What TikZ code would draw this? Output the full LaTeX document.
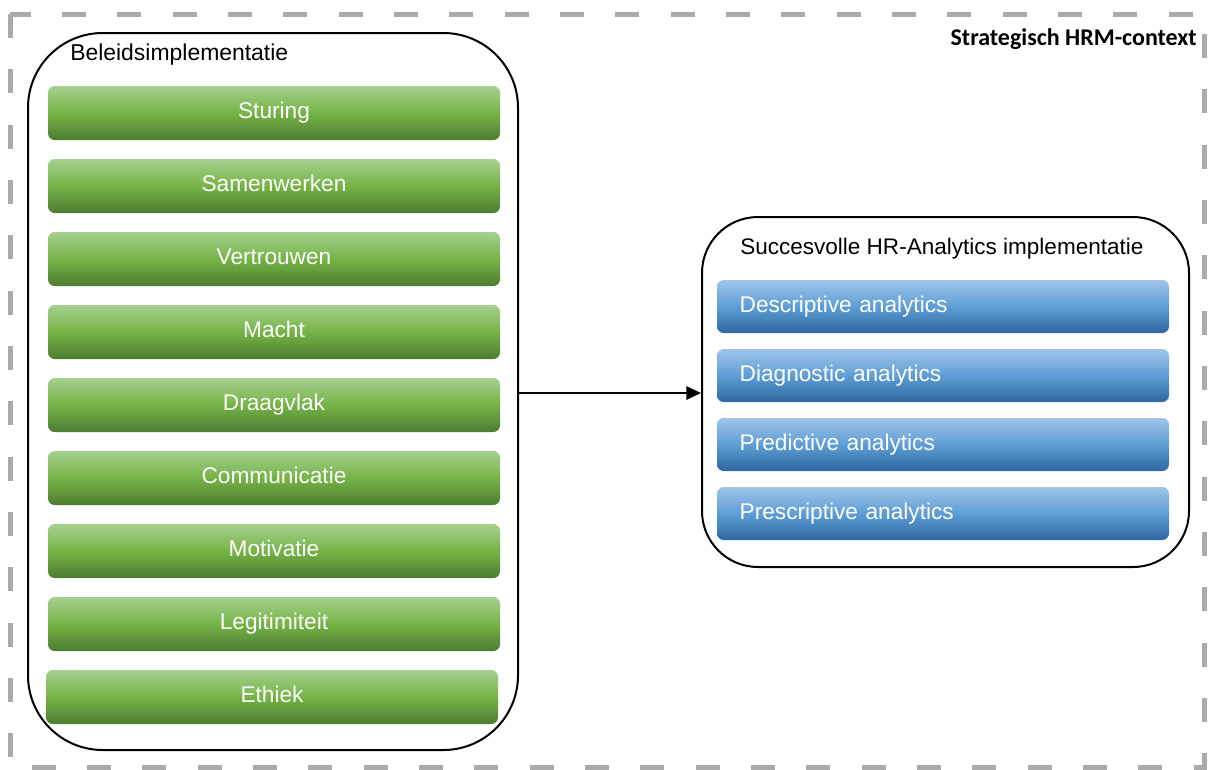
\documentclass[tikz,border=0pt]{standalone}
\usepackage{fontspec}
\setmainfont{Liberation Sans}
\newfontfamily\calibri{Carlito}
\usetikzlibrary{arrows.meta}
\definecolor{dashgray}{HTML}{ABA9A9}
\definecolor{gtop}{HTML}{A6D08F}
\definecolor{gmid}{HTML}{76B346}
\definecolor{gbot}{HTML}{4D7C32}
\definecolor{btop}{HTML}{A0C5E8}
\definecolor{bmid}{HTML}{5E9DD6}
\definecolor{bbot}{HTML}{2E67A2}
\tikzset{
  px/.style={x=0.75pt,y=-0.75pt},
  frame/.style={draw=dashgray,line width=3.75pt,dash pattern=on 18pt off 23.5pt},
  bigbox/.style={draw=black,line width=1.5pt,fill=white,inner sep=0pt},
  gbox/.style={rounded corners=5pt,top color=gtop,bottom color=gbot,middle color=gmid,
    minimum width=339pt,minimum height=40.5pt,inner sep=0pt,text=white,
    text height=12.5pt,text depth=4pt,
    font=\fontsize{17}{20}\selectfont},
  bbox/.style={rounded corners=5pt,top color=btop,bottom color=bbot,middle color=bmid,
    minimum height=39.75pt,inner xsep=17pt,inner ysep=0pt,text width=305pt,align=left,text=white,
    text height=12.5pt,text depth=4pt,
    font=\fontsize{17}{20}\selectfont},
  head/.style={font=\fontsize{17.2}{20}\selectfont,text=black,inner sep=0pt},
  conn/.style={line width=1.5pt,-{Triangle[length=11pt,width=10pt]}}
}
\begin{document}
\begin{tikzpicture}[px]
\useasboundingbox (0,0) rectangle (1208,769);
\draw[frame] (10,14) rectangle (1204,767);
\node[head,anchor=north east,font=\calibri\bfseries\fontsize{18}{21}\selectfont] (ctx) at (1197,28) {Strategisch HRM-context};
% left box
\node[bigbox,rounded corners=56pt,minimum width=367.5pt,minimum height=537.75pt] (left) at (273,391.5) {};
\node[head,anchor=west] (lt) at (70,55) {Beleidsimplementatie};
\foreach \t/\y/\n in {Sturing/113/g1,Samenwerken/186/g2,Vertrouwen/259/g3,Macht/332/g4,Draagvlak/405/g5,Communicatie/478/g6,Motivatie/551/g7,Legitimiteit/624/g8}{
  \node[gbox] (\n) at (274,\y) {\t};
}
\node[gbox] (g9) at (272,697) {Ethiek};
% right box
\node[bigbox,rounded corners=42pt,minimum width=365.25pt,minimum height=262.5pt] (right) at (945.5,392) {};
\node[head,anchor=west,font=\fontsize{16.9}{20}\selectfont] (rt) at (740,249) {Succesvolle HR-Analytics implementatie};
\foreach \t/\y/\n in {Descriptive analytics/306.5/b1,Diagnostic analytics/375.5/b2,Predictive analytics/444.5/b3,Prescriptive analytics/513.5/b4}{
  \node[bbox] (\n) at (943,\y) {\t};
}
\draw[conn] (left.east |- 0,393) -- (right.west |- 0,393);
\end{tikzpicture}
\end{document}
